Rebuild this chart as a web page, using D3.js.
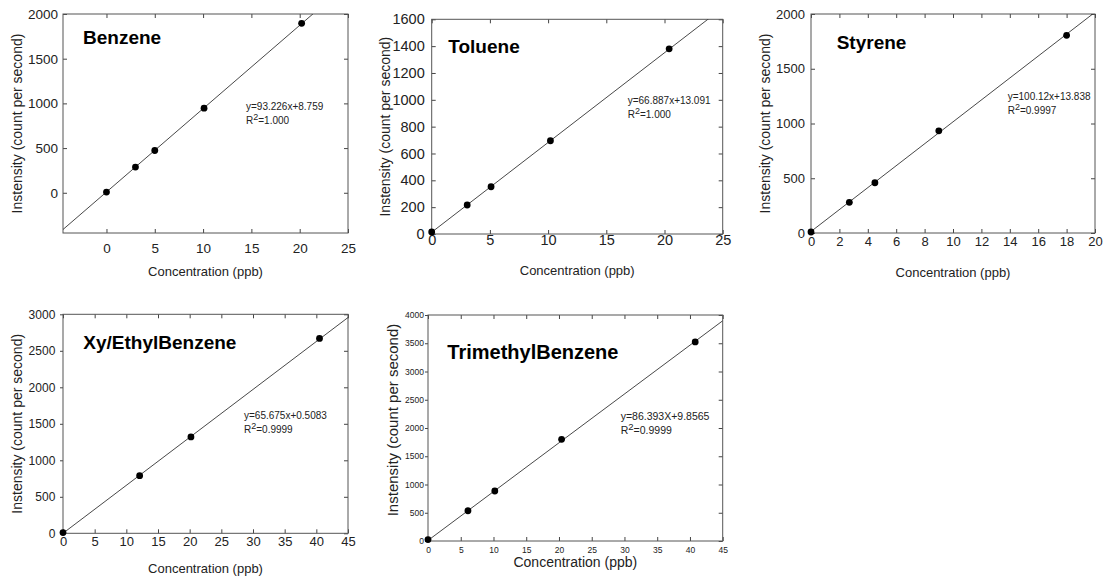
<!DOCTYPE html>
<html>
<head>
<meta charset="utf-8">
<script src="https://cdn.jsdelivr.net/npm/d3@7"></script>
<style>
  body { margin: 0; background: #fff; }
  svg { display: block; font-family: "Liberation Sans", Arial, sans-serif; }
</style>
</head>
<body>
<div id="chart-container"></div>
<script>
// ---- data ----
const titles = ["Benzene", "Toluene", "Styrene", "Xy/EthylBenzene", "TrimethylBenzene"];

const concBenzene = [0, 3, 5, 10.1, 20.2];
const intBenzene = [8, 288, 473, 946, 1896];
const concToluene = [0, 3.05, 5.1, 10.2, 20.4];
const intToluene = [15, 216, 352, 695, 1380];
const concStyrene = [0, 2.7, 4.5, 9, 18];
const intStyrene = [9, 280, 459, 933, 1805];
const concXylene = [0, 12.1, 20.2, 40.5];
const intXylene = [10, 790, 1320, 2670];
const concTrimethyl = [0, 6.1, 10.2, 20.4, 40.8];
const intTrimethyl = [25, 535, 885, 1800, 3524];

const concentrations = [concBenzene, concToluene, concStyrene, concXylene, concTrimethyl];
const intensities = [intBenzene, intToluene, intStyrene, intXylene, intTrimethyl];

// regression fits printed on each plot
const slopes = [93.226, 66.887, 100.12, 65.675, 86.393];
const intercepts = [8.759, 13.091, 13.838, 0.5083, 9.8565];
const equations = ["y=93.226x+8.759", "y=66.887x+13.091", "y=100.12x+13.838", "y=65.675x+0.5083", "y=86.393X+9.8565"];
const r2Values = ["1.000", "1.000", "0.9997", "0.9999", "0.9999"];

// axis ranges and tick labels
const xDomains = [[-4.5, 25], [0, 25], [0, 20], [0, 45], [0, 45]];
const yDomains = [[-450, 2000], [0, 1600], [0, 2000], [0, 3000], [0, 4000]];
const xTicks = [
    [0, 5, 10, 15, 20, 25],
    [0, 5, 10, 15, 20, 25],
    [0, 2, 4, 6, 8, 10, 12, 14, 16, 18, 20],
    [0, 5, 10, 15, 20, 25, 30, 35, 40, 45],
    [0, 5, 10, 15, 20, 25, 30, 35, 40, 45]
];
const yTicks = [
    [0, 500, 1000, 1500, 2000],
    [0, 200, 400, 600, 800, 1000, 1200, 1400, 1600],
    [0, 500, 1000, 1500, 2000],
    [0, 500, 1000, 1500, 2000, 2500, 3000],
    [0, 500, 1000, 1500, 2000, 2500, 3000, 3500, 4000]
];

// ---- layout of each panel (frame in page pixels) ----
const panels = [
    { left: 63, right: 348, top: 14, bottom: 233, tickFont: 13.5, yTickFont: 13.5, yTick: -4, xPad: 10, yPad: 5, titleX: 20, titleY: 30, titleFont: 19, eqX: 183, eqY: 96, labFont: 13, yLabFont: 14, xLabOff: 43, yLabOff: 46, yLabShift: 0 },
    { left: 431.7, right: 722.7, top: 19.3, bottom: 234, tickFont: 14.5, yTickFont: 14.5, yTick: -4, xPad: 1, yPad: 7, titleX: 16.6, titleY: 34, titleFont: 19, eqX: 196, eqY: 85, labFont: 13, yLabFont: 14, xLabOff: 41, yLabOff: 47, yLabShift: 0 },
    { left: 811, right: 1095, top: 14, bottom: 233, tickFont: 13, yTickFont: 13, yTick: -4, xPad: 4, yPad: 6, titleX: 25.7, titleY: 35.3, titleFont: 19, eqX: 196.7, eqY: 86, labFont: 13, yLabFont: 14, xLabOff: 44, yLabOff: 46, yLabShift: 0 },
    { left: 63, right: 348, top: 314.3, bottom: 533.3, tickFont: 13, yTickFont: 12, yTick: 3, xPad: 3, yPad: 4.7, titleX: 20.3, titleY: 35, titleFont: 19, eqX: 181, eqY: 104.7, labFont: 13, yLabFont: 14, xLabOff: 40, yLabOff: 46, yLabShift: 0 },
    { left: 428, right: 722.7, top: 315, bottom: 541, tickFont: 8.5, yTickFont: 8.5, yTick: 3, xPad: 6, yPad: 1, titleX: 19.3, titleY: 44.3, titleFont: 20, eqX: 192.7, eqY: 105, labFont: 14, yLabFont: 15, xLabOff: 26, yLabOff: 35, yLabShift: -8 }
];

const width = 1109;
const height = 581;

const svg = d3.select("#chart-container")
    .append("svg")
        .attr("width", width)
        .attr("height", height);

panels.forEach((p, i) => {
    const w = p.right - p.left;
    const h = p.bottom - p.top;

    const x = d3.scaleLinear().domain(xDomains[i]).range([0, w]);
    const y = d3.scaleLinear().domain(yDomains[i]).range([h, 0]);

    const g = svg.append("g")
        .attr("transform", `translate(${p.left},${p.top})`);

    // clip so the fit line stays inside the frame
    g.append("clipPath")
        .attr("id", "clip" + i)
        .append("rect")
            .attr("width", w)
            .attr("height", h);

    const styleAxis = (sel, fontSize) => {
        sel.select(".domain").remove();
        sel.selectAll("line").attr("stroke", "#444");
        sel.selectAll("text")
            .attr("fill", "#222")
            .attr("font-size", fontSize)
            .attr("font-family", "Liberation Sans, Arial, sans-serif");
    };

    // axes: inward ticks on top/right/bottom, left depends on the panel
    g.append("g")
        .attr("transform", `translate(0,${h})`)
        .call(d3.axisBottom(x).tickValues(xTicks[i]).tickSize(-4).tickPadding(p.xPad).tickFormat(d3.format("d")))
        .call(styleAxis, p.tickFont);
    g.append("g")
        .call(d3.axisTop(x).tickValues(xTicks[i]).tickSize(-4).tickFormat(""))
        .call(styleAxis, p.tickFont);
    g.append("g")
        .call(d3.axisLeft(y).tickValues(yTicks[i]).tickSize(p.yTick).tickPadding(p.yPad).tickFormat(d3.format("d")))
        .call(styleAxis, p.yTickFont);
    g.append("g")
        .attr("transform", `translate(${w},0)`)
        .call(d3.axisRight(y).tickValues(yTicks[i]).tickSize(-4).tickFormat(""))
        .call(styleAxis, p.tickFont);

    // frame
    g.append("rect")
        .attr("width", w)
        .attr("height", h)
        .attr("fill", "none")
        .attr("stroke", "#555")
        .attr("stroke-width", 1);

    // regression line across the x range
    const fit = xDomains[i].map(cx => [cx, slopes[i] * cx + intercepts[i]]);
    g.append("path")
        .datum(fit)
        .attr("clip-path", `url(#clip${i})`)
        .attr("fill", "none")
        .attr("stroke", "#333")
        .attr("stroke-width", 0.9)
        .attr("d", d3.line().x(d => x(d[0])).y(d => y(d[1])));

    // measured points
    g.selectAll("circle.pt")
        .data(concentrations[i].map((c, k) => [c, intensities[i][k]]))
        .enter()
        .append("circle")
            .attr("class", "pt")
            .attr("cx", d => x(d[0]))
            .attr("cy", d => y(d[1]))
            .attr("r", 3.4)
            .attr("fill", "#000");

    // compound name
    g.append("text")
        .attr("x", p.titleX)
        .attr("y", p.titleY)
        .attr("font-size", p.titleFont)
        .attr("font-weight", "bold")
        .attr("fill", "#000")
        .text(titles[i]);

    // fit equation + R^2
    const fs = p.tickFont < 10 ? 10.5 : 10;
    g.append("text")
        .attr("x", p.eqX)
        .attr("y", p.eqY)
        .attr("font-size", fs)
        .attr("fill", "#222")
        .text(equations[i]);
    const r2 = g.append("text")
        .attr("x", p.eqX)
        .attr("y", p.eqY + 14)
        .attr("font-size", fs)
        .attr("fill", "#222");
    r2.append("tspan").text("R");
    r2.append("tspan").attr("dy", -4).attr("font-size", fs - 1).text("2");
    r2.append("tspan").attr("dy", 4).text("=" + r2Values[i]);

    // axis titles
    g.append("text")
        .attr("x", w / 2)
        .attr("y", h + p.xLabOff)
        .attr("text-anchor", "middle")
        .attr("font-size", p.labFont)
        .attr("fill", "#222")
        .text("Concentration (ppb)");
    g.append("text")
        .attr("transform", `translate(${-p.yLabOff},${h / 2 + p.yLabShift}) rotate(-90)`)
        .attr("text-anchor", "middle")
        .attr("dy", "0.35em")
        .attr("font-size", p.yLabFont)
        .attr("fill", "#222")
        .text("Instensity (count per second)");
});
</script>
</body>
</html>
